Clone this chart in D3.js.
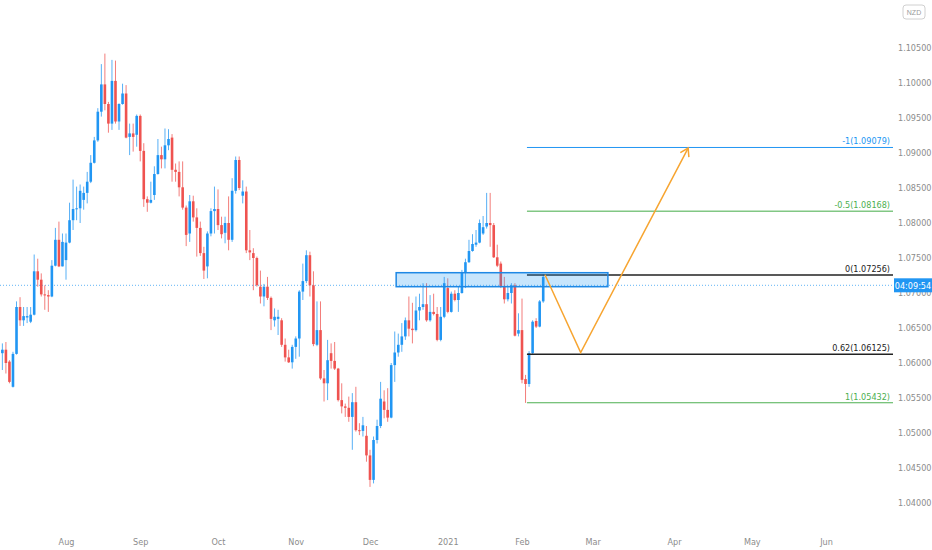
<!DOCTYPE html>
<html>
<head>
<meta charset="utf-8">
<script src="https://cdn.jsdelivr.net/npm/d3@7"></script>
<style>
html, body { margin: 0; background: #fff; }
svg { display: block; }
</style>
</head>
<body>
<svg id="chart" width="932" height="550"></svg>
<script>
// daily candles, bar index 0 = first trading day of Aug
const firstBar = -18;
const openVals = [1.0614,1.0619,1.0602,1.0566,1.0613,1.0680,1.0661,1.0665,1.0659,1.0669,1.0731,1.0719,1.0698,1.0697,1.0695,1.0739,1.0776,1.0738,
  1.0747,1.0772,1.0804,1.0820,1.0821,1.0833,1.0843,1.0859,1.0886,1.0918,1.0959,1.0998,1.0970,1.0942,1.1003,1.0945,1.0970,1.0985,
  1.0923,1.0928,1.0926,1.0953,1.0903,1.0834,1.0829,1.0840,1.0870,1.0897,1.0891,1.0911,1.0922,1.0876,1.0873,1.0851,1.0822,1.0785,
  1.0831,1.0808,1.0793,1.0757,1.0738,1.0785,1.0817,1.0820,1.0797,1.0786,1.0800,1.0776,1.0846,1.0890,1.0839,1.0845,1.0761,1.0757,
  1.0750,1.0709,1.0695,1.0709,1.0693,1.0661,1.0663,1.0661,1.0626,1.0608,1.0601,1.0623,1.0635,1.0702,1.0717,1.0754,1.0711,1.0626,
  1.0647,1.0578,1.0571,1.0614,1.0603,1.0592,1.0547,1.0538,1.0536,1.0523,1.0544,1.0504,1.0503,1.0496,1.0468,1.0433,1.0490,1.0510,
  1.0545,1.0533,1.0522,1.0597,1.0615,1.0626,1.0638,1.0661,1.0649,1.0647,1.0675,1.0680,1.0684,1.0661,1.0673,1.0670,1.0633,1.0666,
  1.0707,1.0673,1.0699,1.0690,1.0700,1.0730,1.0744,1.0760,1.0769,1.0772,1.0785,1.0795,1.0800,1.0797,1.0751,1.0742,1.0710,1.0691,
  1.0700,1.0711,1.0642,1.0647,1.0577,1.0570,1.0614,1.0660,1.0652,1.0688];
const highVals = [1.0628,1.0630,1.0604,1.0616,1.0688,1.0694,1.0680,1.0680,1.0680,1.0755,1.0749,1.0728,1.0711,1.0704,1.0747,1.0793,1.0802,1.0785,
  1.0785,1.0829,1.0862,1.0852,1.0855,1.0852,1.0873,1.0897,1.0923,1.0964,1.1027,1.1042,1.0973,1.1033,1.1032,1.0971,1.0999,1.0997,
  1.0942,1.0942,1.0955,1.0955,1.0914,1.0838,1.0859,1.0881,1.0920,1.0909,1.0935,1.0934,1.0927,1.0885,1.0888,1.0888,1.0825,1.0840,
  1.0839,1.0821,1.0802,1.0766,1.0788,1.0821,1.0852,1.0848,1.0809,1.0809,1.0838,1.0864,1.0895,1.0895,1.0861,1.0852,1.0790,1.0764,
  1.0752,1.0732,1.0713,1.0723,1.0695,1.0678,1.0676,1.0664,1.0635,1.0619,1.0626,1.0638,1.0704,1.0742,1.0761,1.0759,1.0731,1.0688,
  1.0688,1.0590,1.0633,1.0628,1.0630,1.0593,1.0571,1.0542,1.0552,1.0557,1.0566,1.0514,1.0523,1.0510,1.0476,1.0495,1.0519,1.0573,
  1.0561,1.0564,1.0600,1.0645,1.0642,1.0657,1.0665,1.0695,1.0686,1.0695,1.0699,1.0714,1.0714,1.0697,1.0699,1.0680,1.0680,1.0723,
  1.0721,1.0702,1.0704,1.0709,1.0733,1.0749,1.0776,1.0784,1.0790,1.0805,1.0810,1.0843,1.0843,1.0800,1.0769,1.0745,1.0723,1.0709,
  1.0714,1.0714,1.0671,1.0692,1.0583,1.0617,1.0661,1.0664,1.0690,1.0727];
const lowVals = [1.0590,1.0585,1.0571,1.0565,1.0612,1.0653,1.0653,1.0657,1.0657,1.0668,1.0709,1.0695,1.0676,1.0673,1.0694,1.0738,1.0737,1.0738,
  1.0719,1.0771,1.0790,1.0804,1.0800,1.0819,1.0828,1.0857,1.0885,1.0916,1.0952,1.0961,1.0929,1.0933,1.0942,1.0933,1.0969,1.0921,
  1.0897,1.0902,1.0909,1.0888,1.0823,1.0816,1.0828,1.0833,1.0869,1.0878,1.0878,1.0904,1.0859,1.0859,1.0838,1.0819,1.0767,1.0773,
  1.0802,1.0752,1.0753,1.0720,1.0721,1.0781,1.0785,1.0790,1.0778,1.0771,1.0761,1.0773,1.0842,1.0847,1.0828,1.0757,1.0747,1.0704,
  1.0709,1.0685,1.0681,1.0690,1.0647,1.0652,1.0640,1.0623,1.0602,1.0600,1.0592,1.0606,1.0609,1.0690,1.0714,1.0695,1.0624,1.0624,
  1.0576,1.0545,1.0547,1.0592,1.0590,1.0545,1.0528,1.0523,1.0516,1.0476,1.0502,1.0497,1.0495,1.0459,1.0423,1.0428,1.0485,1.0507,
  1.0521,1.0516,1.0521,1.0573,1.0609,1.0616,1.0633,1.0638,1.0628,1.0645,1.0661,1.0676,1.0659,1.0659,1.0668,1.0631,1.0631,1.0664,
  1.0671,1.0672,1.0688,1.0673,1.0699,1.0707,1.0743,1.0759,1.0766,1.0771,1.0783,1.0792,1.0766,1.0750,1.0737,1.0707,1.0685,1.0688,
  1.0685,1.0638,1.0638,1.0571,1.0543,1.0566,1.0612,1.0650,1.0651,1.0686];
const closeVals = [1.0619,1.0600,1.0573,1.0613,1.0680,1.0661,1.0667,1.0667,1.0669,1.0731,1.0719,1.0698,1.0697,1.0695,1.0739,1.0776,1.0738,1.0773,
  1.0772,1.0804,1.0820,1.0821,1.0846,1.0843,1.0859,1.0886,1.0918,1.0959,1.0998,1.0970,1.0942,1.1003,1.0945,1.0970,1.0985,1.0922,
  1.0928,1.0923,1.0953,1.0903,1.0834,1.0829,1.0833,1.0870,1.0897,1.0891,1.0911,1.0920,1.0876,1.0873,1.0851,1.0822,1.0783,1.0831,
  1.0808,1.0793,1.0757,1.0732,1.0785,1.0817,1.0820,1.0797,1.0784,1.0800,1.0776,1.0846,1.0890,1.0850,1.0845,1.0761,1.0758,1.0750,
  1.0711,1.0695,1.0709,1.0693,1.0663,1.0666,1.0666,1.0626,1.0608,1.0601,1.0623,1.0635,1.0702,1.0717,1.0754,1.0711,1.0627,1.0647,
  1.0578,1.0571,1.0604,1.0603,1.0592,1.0547,1.0538,1.0536,1.0523,1.0544,1.0504,1.0503,1.0511,1.0468,1.0433,1.0490,1.0510,1.0549,
  1.0533,1.0522,1.0597,1.0615,1.0626,1.0638,1.0661,1.0649,1.0647,1.0675,1.0680,1.0684,1.0661,1.0673,1.0670,1.0633,1.0666,1.0714,
  1.0673,1.0699,1.0690,1.0700,1.0730,1.0744,1.0760,1.0770,1.0772,1.0800,1.0794,1.0800,1.0797,1.0751,1.0739,1.0710,1.0691,1.0700,
  1.0711,1.0639,1.0647,1.0576,1.0570,1.0614,1.0659,1.0652,1.0688,1.0723];

const monthLabels = ["Aug", "Sep", "Oct", "Nov", "Dec", "2021", "Feb", "Mar", "Apr", "May", "Jun"];
const monthBars = [0, 21, 43, 65, 86, 108, 129, 149, 172, 194, 215];
const priceTicks = [1.040, 1.045, 1.050, 1.055, 1.060, 1.065, 1.070, 1.075, 1.080, 1.085, 1.090, 1.095, 1.100, 1.105];

const fibNames = ["-1", "-0.5", "0", "0.62", "1"];
const fibPrices = [1.09079, 1.08168, 1.07256, 1.06125, 1.05432];
const fibStartBar = 130.4;

const zoneBars = [93.4, 153.3];
const zonePrices = [1.0729, 1.0709];

const pathBars = [135.5, 145.6, 176];
const pathPrices = [1.0726, 1.0615, 1.0907];

const currentPrice = 1.0711;
const countdown = "04:09:54";
const currency = "NZD";

const svg = d3.select("#chart");
const plotRight = 893;

let x = d3.scaleLinear().domain([0, 215]).range([66, 826]);
let y = d3.scaleLinear().domain([1.04, 1.09]).range([503, 153]);

const upColor = "#2196f3", downColor = "#ef5350";
const fibStyle = [
    {line: "#2196f3", text: "#2196f3", w: 1},
    {line: "#81c784", text: "#4caf50", w: 1.5},
    {line: "#222222", text: "#222222", w: 1.5},
    {line: "#222222", text: "#222222", w: 1.5},
    {line: "#4caf50", text: "#4caf50", w: 1}
];

let candles = openVals.map(function(o, k) {
    return {i: firstBar + k, o: o, h: highVals[k], l: lowVals[k], c: closeVals[k]};
});

// y axis on the right
let gY = svg.append("g")
    .attr("transform", "translate(" + (plotRight + 2) + ",0)")
    .call(d3.axisRight(y).tickValues(priceTicks).tickFormat(d3.format(".5f")).tickSize(0).tickPadding(3));
gY.select(".domain").remove();
gY.selectAll("text")
    .attr("fill", "#8c8c8c")
    .style("font-size", "9px")
    .style("font-family", "'Liberation Sans Narrow', 'DejaVu Sans Condensed', 'Liberation Sans', sans-serif");

// x axis with month labels
let gX = svg.append("g")
    .attr("transform", "translate(0,536)")
    .call(d3.axisBottom(x).tickValues(monthBars).tickFormat(function(d, k) { return monthLabels[k]; }).tickSize(0).tickPadding(3));
gX.select(".domain").remove();
gX.selectAll("text")
    .attr("fill", "#8c8c8c")
    .style("font-size", "9px")
    .style("font-family", "'Liberation Sans Narrow', 'DejaVu Sans Condensed', 'Liberation Sans', sans-serif");

// current price dotted line
svg.append("line")
    .attr("x1", 0).attr("x2", plotRight)
    .attr("y1", y(currentPrice)).attr("y2", y(currentPrice))
    .attr("stroke", "#2196f3").attr("stroke-width", 1)
    .attr("stroke-dasharray", "1,2").attr("opacity", 0.7);

// candles
let canvas = svg.append("g").attr("id", "canvas");
canvas.selectAll("line.wick")
    .data(candles)
    .enter()
    .append("line")
    .attr("class", "wick")
    .attr("x1", function(d) { return x(d.i); })
    .attr("x2", function(d) { return x(d.i); })
    .attr("y1", function(d) { return y(Math.max(d.h, d.o, d.c)); })
    .attr("y2", function(d) { return y(Math.min(d.l, d.o, d.c)); })
    .attr("stroke", function(d) { return d.c >= d.o ? upColor : downColor; })
    .attr("stroke-width", 1)
    .attr("opacity", 0.75);

canvas.selectAll("rect.body")
    .data(candles)
    .enter()
    .append("rect")
    .attr("class", "body")
    .attr("x", function(d) { return x(d.i) - 1.3; })
    .attr("width", 2.6)
    .attr("y", function(d) { return y(Math.max(d.o, d.c)); })
    .attr("height", function(d) { return Math.max(1, Math.abs(y(d.o) - y(d.c))); })
    .attr("fill", function(d) { return d.c >= d.o ? upColor : downColor; });

// fib levels
fibPrices.forEach(function(p, k) {
    svg.append("line")
        .attr("x1", x(fibStartBar)).attr("x2", plotRight)
        .attr("y1", y(p)).attr("y2", y(p))
        .attr("stroke", fibStyle[k].line)
        .attr("stroke-width", fibStyle[k].w);
    svg.append("text")
        .attr("x", plotRight - 3)
        .attr("y", y(p) - 3)
        .attr("text-anchor", "end")
        .attr("fill", fibStyle[k].text)
        .style("font-size", "9px")
        .style("font-family", "'Liberation Sans Narrow', 'DejaVu Sans Condensed', 'Liberation Sans', sans-serif")
        .text(fibNames[k] + "(" + p.toFixed(5) + ")");
});

// resistance zone
svg.append("rect")
    .attr("x", x(zoneBars[0]))
    .attr("y", y(zonePrices[0]))
    .attr("width", x(zoneBars[1]) - x(zoneBars[0]))
    .attr("height", y(zonePrices[1]) - y(zonePrices[0]))
    .attr("fill", "rgba(33,150,243,0.25)")
    .attr("stroke", "#1e88e5")
    .attr("stroke-width", 1.5);

// projected path
let pts = pathBars.map(function(b, k) { return [x(b), y(pathPrices[k])]; });
svg.append("path")
    .attr("d", d3.line()(pts))
    .attr("fill", "none")
    .attr("stroke", "#f7a531")
    .attr("stroke-width", 1.5);
let tip = pts[pts.length - 1], prev = pts[pts.length - 2];
let ang = Math.atan2(tip[1] - prev[1], tip[0] - prev[0]);
let head = [ang + Math.PI * 0.82, ang - Math.PI * 0.82].map(function(a) {
    return [tip[0] + 9 * Math.cos(a), tip[1] + 9 * Math.sin(a)];
});
svg.append("path")
    .attr("d", d3.line()([head[0], tip, head[1]]))
    .attr("fill", "none")
    .attr("stroke", "#f7a531")
    .attr("stroke-width", 1.5);

// countdown label on the price axis
let cy = y(currentPrice);
svg.append("rect")
    .attr("x", plotRight + 1).attr("y", cy - 7)
    .attr("width", 38).attr("height", 14)
    .attr("fill", "#2196f3");
svg.append("text")
    .attr("x", plotRight + 20).attr("y", cy + 3.2)
    .attr("text-anchor", "middle")
    .attr("fill", "#fff")
    .style("font-size", "9px")
    .style("font-family", "'Liberation Sans Narrow', 'DejaVu Sans Condensed', 'Liberation Sans', sans-serif")
    .text(countdown);

// currency badge
svg.append("rect")
    .attr("x", 903).attr("y", 5).attr("width", 22).attr("height", 14).attr("rx", 3)
    .attr("fill", "none").attr("stroke", "#d0d0d0");
svg.append("text")
    .attr("x", 914).attr("y", 15)
    .attr("text-anchor", "middle")
    .attr("fill", "#999")
    .style("font-size", "7px")
    .style("font-family", "'Liberation Sans', sans-serif")
    .text(currency);
</script>
</body>
</html>
